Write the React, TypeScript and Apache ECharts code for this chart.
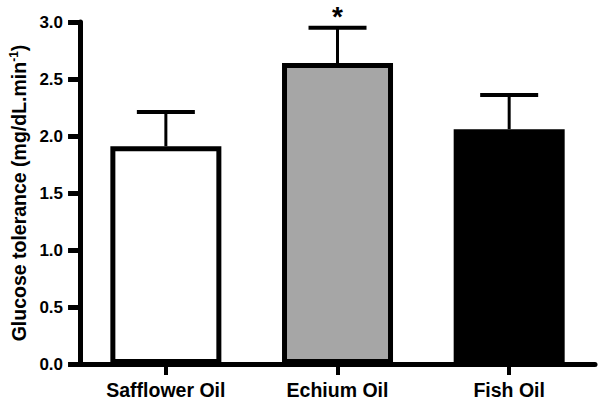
import React, { useEffect, useRef } from "react";
import * as echarts from "echarts";

const categories = ["Safflower Oil", "Echium Oil", "Fish Oil"];
const means = [1.91, 2.64, 2.06];
const sems = [0.3, 0.31, 0.3];
const significance = ["", "*", ""];
const fills = ["#ffffff", "#a6a6a6", "#000000"];
const yTicks = [0, 0.5, 1.0, 1.5, 2.0, 2.5, 3.0];

const FONT = "'Liberation Sans', Arial, Helvetica, sans-serif";

export default function App() {
  const ref = useRef<HTMLDivElement>(null);

  useEffect(() => {
    if (!ref.current) return;
    const chart = echarts.init(ref.current, undefined, { renderer: "svg" });
    chart.setOption({
      animation: false,
      backgroundColor: "#ffffff",
      grid: { left: 75, right: 5, top: 22, bottom: 39, containLabel: false },
      xAxis: {
        type: "category",
        data: categories,
        axisLine: { lineStyle: { color: "#000", width: 5 } },
        axisTick: { show: true, alignWithLabel: true, length: 11, lineStyle: { color: "#000", width: 4 } },
        axisLabel: {
          color: "#000",
          fontFamily: FONT,
          fontWeight: "bold",
          fontSize: 19.5,
          margin: 16,
        },
      },
      yAxis: {
        type: "value",
        min: yTicks[0],
        max: yTicks[yTicks.length - 1],
        interval: 0.5,
        splitLine: { show: false },
        axisLine: { show: true, lineStyle: { color: "#000", width: 5 } },
        axisTick: { show: true, length: 12, lineStyle: { color: "#000", width: 5 } },
        axisLabel: {
          color: "#000",
          fontFamily: FONT,
          fontWeight: "bold",
          fontSize: 17,
          margin: 17,
          formatter: (v: number) => v.toFixed(1),
        },
        name: "Glucose tolerance (mg/dL.min{sup|-1})",
        nameLocation: "middle",
        nameGap: 49,
        nameTextStyle: {
          color: "#000",
          fontFamily: FONT,
          fontWeight: "bold",
          fontSize: 19.5,
          rich: {
            sup: {
              color: "#000",
              fontFamily: FONT,
              fontWeight: "bold",
              fontSize: 12,
              verticalAlign: "top",
              padding: [0, 0, 9, 0],
            },
          },
        },
      },
      series: [
        {
          type: "bar",
          barWidth: 111,
          data: means.map((v, i) => ({
            value: v,
            itemStyle: { color: fills[i], borderColor: "#000", borderWidth: 5 },
          })),
          z: 2,
        },
        {
          type: "custom",
          z: 3,
          data: means.map((v, i) => [i, v, sems[i]]),
          renderItem: (params: any, api: any) => {
            const i = api.value(0);
            const v = api.value(1);
            const e = api.value(2);
            const base = api.coord([i, v]);
            const top = api.coord([i, v + e]);
            const half = 29;
            const children: any[] = [
              {
                type: "line",
                shape: { x1: base[0], y1: base[1], x2: top[0], y2: top[1] },
                style: { stroke: "#000", lineWidth: 3 },
              },
              {
                type: "line",
                shape: { x1: top[0] - half, y1: top[1], x2: top[0] + half, y2: top[1] },
                style: { stroke: "#000", lineWidth: 4 },
              },
            ];
            const sig = significance[params.dataIndex];
            if (sig) {
              children.push({
                type: "text",
                x: top[0],
                y: top[1] - 25,
                style: {
                  text: sig,
                  fill: "#000",
                  font: `bold 28px ${FONT}`,
                  align: "center",
                  verticalAlign: "top",
                },
              });
            }
            return { type: "group", children };
          },
        },
      ],
    });
    return () => chart.dispose();
  }, []);

  return (
    <div
      ref={ref}
      style={{ position: "fixed", left: 0, top: 0, width: 600, height: 403, background: "#fff" }}
    />
  );
}
